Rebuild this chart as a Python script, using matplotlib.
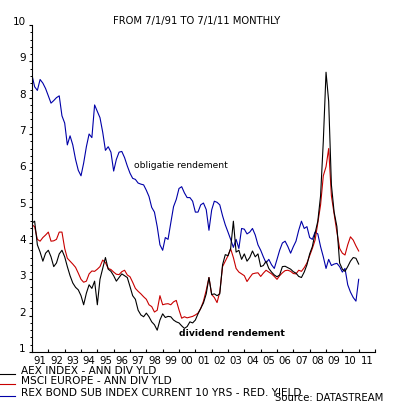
import pandas as pd
import matplotlib
matplotlib.use('Agg')
import matplotlib.pyplot as plt
import matplotlib.dates as mdates
from matplotlib.lines import Line2D
from matplotlib.ticker import MultipleLocator

# Bimonthly readings, Jan 1991 .. Jan 2011
DATES = pd.date_range('1991-01-01', periods=121, freq='2MS')

AEX = [
    4.55, 4.60, 3.95, 3.75, 3.50, 3.72, 3.80, 3.62, 3.35, 3.45,
    3.70, 3.80, 3.62, 3.35, 3.10, 2.90, 2.78, 2.71, 2.55, 2.30,
    2.62, 2.85, 2.75, 2.95, 2.30, 3.00, 3.30, 3.60, 3.28, 3.22,
    3.10, 2.95, 3.05, 3.15, 3.10, 3.05, 2.80, 2.55, 2.45, 2.15,
    2.02, 1.97, 2.07, 1.97, 1.83, 1.75, 1.60, 1.88, 2.05, 1.95,
    1.98, 1.97, 1.88, 1.83, 1.80, 1.72, 1.65, 1.70, 1.83, 1.80,
    1.88, 2.05, 2.20, 2.35, 2.60, 3.05, 2.58, 2.60, 2.55, 2.60,
    3.40, 3.68, 3.65, 3.85, 4.60, 3.75, 3.80, 3.55, 3.70, 3.50,
    3.60, 3.78, 3.62, 3.70, 3.35, 3.38, 3.50, 3.30, 3.20, 3.12,
    3.07, 3.12, 3.35, 3.36, 3.32, 3.28, 3.21, 3.17, 3.08, 3.05,
    3.20, 3.40, 3.70, 3.90, 4.27, 4.60, 5.30, 6.80, 8.70, 7.90,
    5.60, 4.85, 4.45, 3.45, 3.28, 3.22, 3.35, 3.50, 3.60, 3.58,
    3.42,
]

MSCI = [
    4.50, 4.45, 4.10, 4.05, 4.15, 4.22, 4.30, 4.05, 4.06, 4.10,
    4.30, 4.30, 3.85, 3.58, 3.50, 3.42, 3.33, 3.17, 3.00, 2.92,
    2.95, 3.15, 3.23, 3.22, 3.28, 3.35, 3.53, 3.46, 3.30, 3.27,
    3.20, 3.14, 3.13, 3.21, 3.25, 3.12, 3.07, 2.92, 2.75, 2.67,
    2.60, 2.52, 2.45, 2.30, 2.25, 2.10, 2.15, 2.55, 2.30, 2.32,
    2.33, 2.30, 2.38, 2.42, 2.16, 1.93, 1.97, 1.94, 1.96, 1.98,
    2.02, 2.07, 2.20, 2.40, 2.70, 3.05, 2.58, 2.50, 2.36, 2.65,
    3.35, 3.50, 3.65, 3.84, 3.60, 3.30, 3.20, 3.15, 3.10, 2.94,
    3.05, 3.15, 3.17, 3.18, 3.08, 3.17, 3.25, 3.20, 3.15, 3.08,
    3.00, 3.10, 3.18, 3.24, 3.25, 3.22, 3.16, 3.15, 3.25, 3.22,
    3.32, 3.45, 3.65, 3.85, 4.08, 4.55, 5.05, 5.85, 6.10, 6.60,
    5.30, 4.80, 4.30, 3.85, 3.72, 3.67, 3.95, 4.17, 4.08, 3.92,
    3.78,
]

REX = [
    8.62, 8.30, 8.20, 8.50, 8.40, 8.25, 8.05, 7.85, 7.92, 8.00,
    8.05, 7.50, 7.30, 6.70, 6.95, 6.70, 6.30, 6.00, 5.85, 6.20,
    6.65, 7.00, 6.90, 7.80, 7.62, 7.45, 7.05, 6.55, 6.65, 6.50,
    5.98, 6.30, 6.50, 6.52, 6.35, 6.12, 5.92, 5.78, 5.75, 5.65,
    5.62, 5.60, 5.45, 5.28, 4.98, 4.85, 4.45, 3.95, 3.80, 4.15,
    4.10, 4.55, 5.00, 5.20, 5.50, 5.55, 5.38, 5.25, 5.25, 5.15,
    4.85, 4.85, 5.05, 5.10, 4.92, 4.35, 4.91, 5.15, 5.12, 5.05,
    4.75, 4.50, 4.30, 4.10, 3.88, 4.10, 3.85, 4.40, 4.38, 4.25,
    4.30, 4.40, 4.22, 3.95, 3.80, 3.62, 3.45, 3.55, 3.40, 3.30,
    3.55, 3.80, 4.00, 4.05, 3.90, 3.72, 3.90, 4.05, 4.35, 4.60,
    4.40, 4.45, 4.15, 4.10, 4.30, 4.25, 3.90, 3.62, 3.30, 3.55,
    3.38, 3.42, 3.44, 3.35, 3.20, 3.30, 2.85, 2.65, 2.50, 2.40,
    3.00,
]

SERIES_LABELS = [
    'AEX INDEX - ANN DIV YLD',
    'MSCI EUROPE - ANN DIV YLD',
    'REX BOND SUB INDEX CURRENT 10 YRS - RED. YIELD',
]

BLACK = '#000000'
RED = '#c80000'
BLUE = '#0000a8'

W, H = 401, 401
fig = plt.figure(figsize=(W / 100, H / 100), dpi=100, facecolor='white')
ax = fig.add_axes([32 / W, 1 - 352 / H, 343 / W, 327 / H])

ax.plot(DATES, REX, color=BLUE, lw=0.8)
ax.plot(DATES, MSCI, color=RED, lw=0.8)
ax.plot(DATES, AEX, color=BLACK, lw=0.8)

ax.set_xlim(pd.Timestamp('1991-01-01'), pd.Timestamp('2012-01-01'))
ax.set_ylim(1, 10)

for side in ('top', 'right'):
    ax.spines[side].set_visible(False)
for side in ('left', 'bottom'):
    ax.spines[side].set_linewidth(0.8)

# y axis: integer labels, minor every 0.2
ax.yaxis.set_major_locator(MultipleLocator(1))
ax.yaxis.set_minor_locator(MultipleLocator(0.2))
ax.tick_params(axis='y', which='major', direction='out', length=2.5,
               width=0.8, labelsize=7.5, pad=2)
ax.tick_params(axis='y', which='minor', direction='out', length=1.3,
               width=0.7)
for lab in ax.get_yticklabels():
    lab.set_va('baseline')

# x axis: ticks at year boundaries, labels centred in each year
ax.xaxis.set_major_locator(mdates.YearLocator())
ax.xaxis.set_major_formatter(plt.NullFormatter())
ax.xaxis.set_minor_locator(mdates.MonthLocator(bymonth=7))
ax.xaxis.set_minor_formatter(mdates.DateFormatter('%y'))
ax.tick_params(axis='x', which='major', direction='in', length=2.5,
               width=0.8)
ax.tick_params(axis='x', which='minor', length=0, labelsize=7.3, pad=3)

ax.text(pd.Timestamp('1997-04-01'), 6.12, 'obligatie rendement',
        fontsize=6.6, ha='left', va='center')
ax.text(pd.Timestamp('2000-01-01'), 1.5, 'dividend rendement',
        fontsize=6.7, fontweight='bold', ha='left', va='center')

fig.text(197 / W, 1 - 21 / H, 'FROM 7/1/91 TO 7/1/11 MONTHLY',
         fontsize=7.2, ha='center', va='center')

# legend rows
legend_y = [371, 381, 393]
for y, lab, col in zip(legend_y, SERIES_LABELS, [BLACK, RED, BLUE]):
    fig.add_artist(Line2D([0, 15 / W], [1 - (y + 3) / H] * 2,
                          transform=fig.transFigure, color=col, lw=0.8))
    fig.text(21 / W, 1 - y / H, lab, fontsize=7.6, ha='left', va='center')

fig.text(383 / W, 1 - 398 / H, 'Source: DATASTREAM', fontsize=7.3,
         ha='right', va='center')

fig.savefig('out.png', dpi=100, facecolor='white')
